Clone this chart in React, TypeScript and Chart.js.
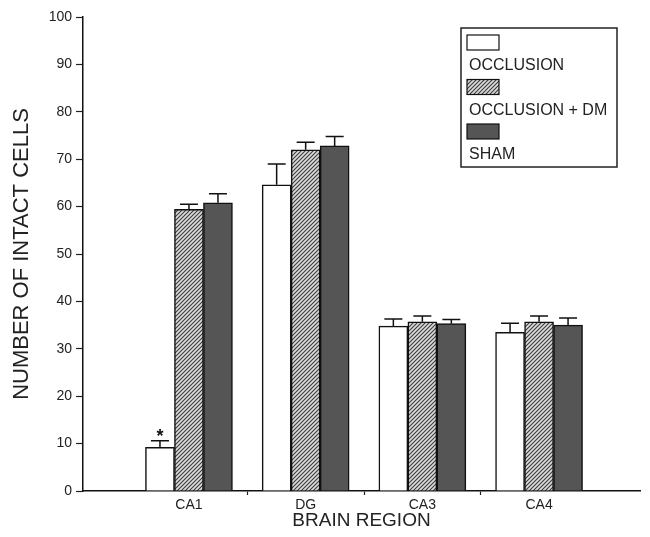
import React, { useEffect, useRef } from 'react';
import { Chart, registerables } from 'chart.js';

Chart.register(...registerables);

// ---- data ----
const regions = ['CA1', 'DG', 'CA3', 'CA4'];
const regionPos = [1, 2, 3, 4];
const boundaryPos = [1.5, 2.5, 3.5];
const seriesNames = ['OCCLUSION', 'OCCLUSION + DM', 'SHAM'];
const occlusion = [9.2, 64.6, 34.8, 33.5];
const occlusionErr = [1.4, 4.4, 1.5, 1.9];
const occlusionDM = [59.4, 72.0, 35.7, 35.7];
const occlusionDMErr = [1.1, 1.6, 1.2, 1.2];
const sham = [60.8, 72.8, 35.3, 35.0];
const shamErr = [1.9, 2.0, 0.9, 1.5];
const significance = ['*', '', '', ''];
const yMin = 0;
const yMax = 100;
const yStep = 10;

const FONT = "'Liberation Sans', Arial, Helvetica, sans-serif";

function makeHatch(): CanvasPattern | string {
  const c = document.createElement('canvas');
  const s = 4;
  c.width = s;
  c.height = s;
  const g = c.getContext('2d');
  if (!g) return '#999';
  g.fillStyle = '#dcdcdc';
  g.fillRect(0, 0, s, s);
  g.strokeStyle = '#3a3a3a';
  g.lineWidth = 1.1;
  g.beginPath();
  g.moveTo(-1, s + 1);
  g.lineTo(s + 1, -1);
  g.moveTo(-1, 1);
  g.lineTo(1, -1);
  g.moveTo(s - 1, s + 1);
  g.lineTo(s + 1, s - 1);
  g.stroke();
  const p = g.createPattern(c, 'repeat');
  return p || '#999';
}

const errorBarPlugin = {
  id: 'errorBars',
  afterDatasetsDraw(chart: any) {
    const ctx = chart.ctx;
    const yScale = chart.scales.y;
    ctx.save();
    chart.data.datasets.forEach((ds: any, di: number) => {
      const meta = chart.getDatasetMeta(di);
      const errs: number[] = ds.errorBars || [];
      const vals: any[] = ds.data;
      meta.data.forEach((el: any, i: number) => {
        const v = vals[i].y;
        const e = errs[i] || 0;
        const yTop = yScale.getPixelForValue(v);
        const yErr = yScale.getPixelForValue(v + e);
        ctx.strokeStyle = '#111';
        ctx.lineWidth = 1.5;
        ctx.beginPath();
        ctx.moveTo(el.x, yTop);
        ctx.lineTo(el.x, yErr);
        ctx.moveTo(el.x - 9, yErr);
        ctx.lineTo(el.x + 9, yErr);
        ctx.stroke();
        const sig = ds.significance ? ds.significance[i] : '';
        if (sig) {
          ctx.fillStyle = '#111';
          ctx.font = `bold 18px ${FONT}`;
          ctx.textAlign = 'center';
          ctx.textBaseline = 'top';
          ctx.fillText(sig, el.x, yErr - 13);
        }
      });
    });
    ctx.restore();
  },
};

const legendPlugin = {
  id: 'boxLegend',
  afterDraw(chart: any) {
    const ctx = chart.ctx;
    const area = chart.chartArea;
    const boxX = area.right - 179;
    const boxY = area.top + 11;
    const boxW = 156;
    const boxH = 139;
    ctx.save();
    ctx.fillStyle = '#fff';
    ctx.fillRect(boxX, boxY, boxW, boxH);
    ctx.strokeStyle = '#222';
    ctx.lineWidth = 1.5;
    ctx.strokeRect(boxX, boxY, boxW, boxH);
    chart.data.datasets.forEach((ds: any, i: number) => {
      const sx = boxX + 6;
      const sy = boxY + 7 + i * 44.5;
      ctx.fillStyle = ds.backgroundColor;
      ctx.fillRect(sx, sy, 32, 15);
      ctx.lineWidth = 1.2;
      ctx.strokeStyle = '#111';
      ctx.strokeRect(sx, sy, 32, 15);
      ctx.fillStyle = '#222';
      ctx.font = `16px ${FONT}`;
      ctx.textAlign = 'left';
      ctx.textBaseline = 'middle';
      ctx.fillText(ds.label, sx + 2, sy + 31);
    });
    ctx.restore();
  },
};

export default function App() {
  const ref = useRef<HTMLCanvasElement | null>(null);
  useEffect(() => {
    if (!ref.current) return;
    const hatch = makeHatch();
    const fills = ['#ffffff', hatch, '#555555'];
    const values = [occlusion, occlusionDM, sham];
    const errs = [occlusionErr, occlusionDMErr, shamErr];
    const yTickValues: number[] = [];
    for (let v = yMin; v <= yMax; v += yStep) yTickValues.push(v);
    const xTickValues = [...regionPos, ...boundaryPos].sort((a, b) => a - b);

    const chart = new Chart(ref.current, {
      type: 'bar',
      data: {
        datasets: seriesNames.map((name, si) => ({
          label: name,
          data: regionPos.map((x, i) => ({ x, y: values[si][i] })),
          backgroundColor: fills[si] as any,
          borderColor: '#111',
          borderWidth: 1.5,
          errorBars: errs[si],
          significance: si === 0 ? significance : null,
        })) as any,
      },
      options: {
        animation: false,
        responsive: false,
        layout: { padding: { top: 17, right: 10, left: 0, bottom: 0 } },
        datasets: { bar: { barThickness: 29, grouped: true } as any },
        plugins: {
          legend: { display: false },
          tooltip: { enabled: false },
        },
        scales: {
          x: {
            type: 'linear',
            offset: false,
            min: 0.092,
            max: 4.865,
            afterBuildTicks: (axis: any) => {
              axis.ticks = xTickValues.map((v) => ({ value: v }));
            },
            afterFit: (axis: any) => {
              axis.height = 46;
            },
            grid: {
              display: true,
              offset: false,
              drawOnChartArea: false,
              drawTicks: true,
              tickLength: 4,
              tickColor: (c: any) =>
                c.tick && Number.isInteger(c.tick.value) ? 'rgba(0,0,0,0)' : '#222',
              tickWidth: 1.2,
            } as any,
            border: { display: true, color: '#111', width: 1.5 },
            ticks: {
              autoSkip: false,
              maxRotation: 0,
              padding: 2,
              color: '#222',
              font: { family: FONT, size: 14 },
              callback: (v: any) => {
                const idx = regionPos.indexOf(Number(v));
                return idx >= 0 ? regions[idx] : '';
              },
            },
            title: {
              display: true,
              text: 'BRAIN REGION',
              color: '#222',
              font: { family: FONT, size: 19 },
              padding: { top: 0, bottom: 5 },
            },
          },
          y: {
            type: 'linear',
            min: yMin,
            max: yMax,
            afterBuildTicks: (axis: any) => {
              axis.ticks = yTickValues.map((v) => ({ value: v }));
            },
            afterFit: (axis: any) => {
              axis.width = 83;
            },
            grid: {
              display: true,
              drawOnChartArea: false,
              drawTicks: true,
              tickLength: 7,
              tickColor: '#222',
              tickWidth: 1.2,
            },
            border: { display: true, color: '#111', width: 1.5 },
            ticks: {
              padding: 4,
              color: '#222',
              font: { family: FONT, size: 14 },
            },
            title: {
              display: true,
              text: 'NUMBER OF INTACT CELLS',
              color: '#222',
              font: { family: FONT, size: 22 },
              padding: { top: 9, bottom: 0 },
            },
          },
        },
      },
      plugins: [errorBarPlugin, legendPlugin],
    });
    return () => chart.destroy();
  }, []);

  return (
    <div style={{ position: 'absolute', left: 0, top: 0, width: 650, height: 537, background: '#fff' }}>
      <canvas ref={ref} width={650} height={537} style={{ display: 'block' }} />
    </div>
  );
}
